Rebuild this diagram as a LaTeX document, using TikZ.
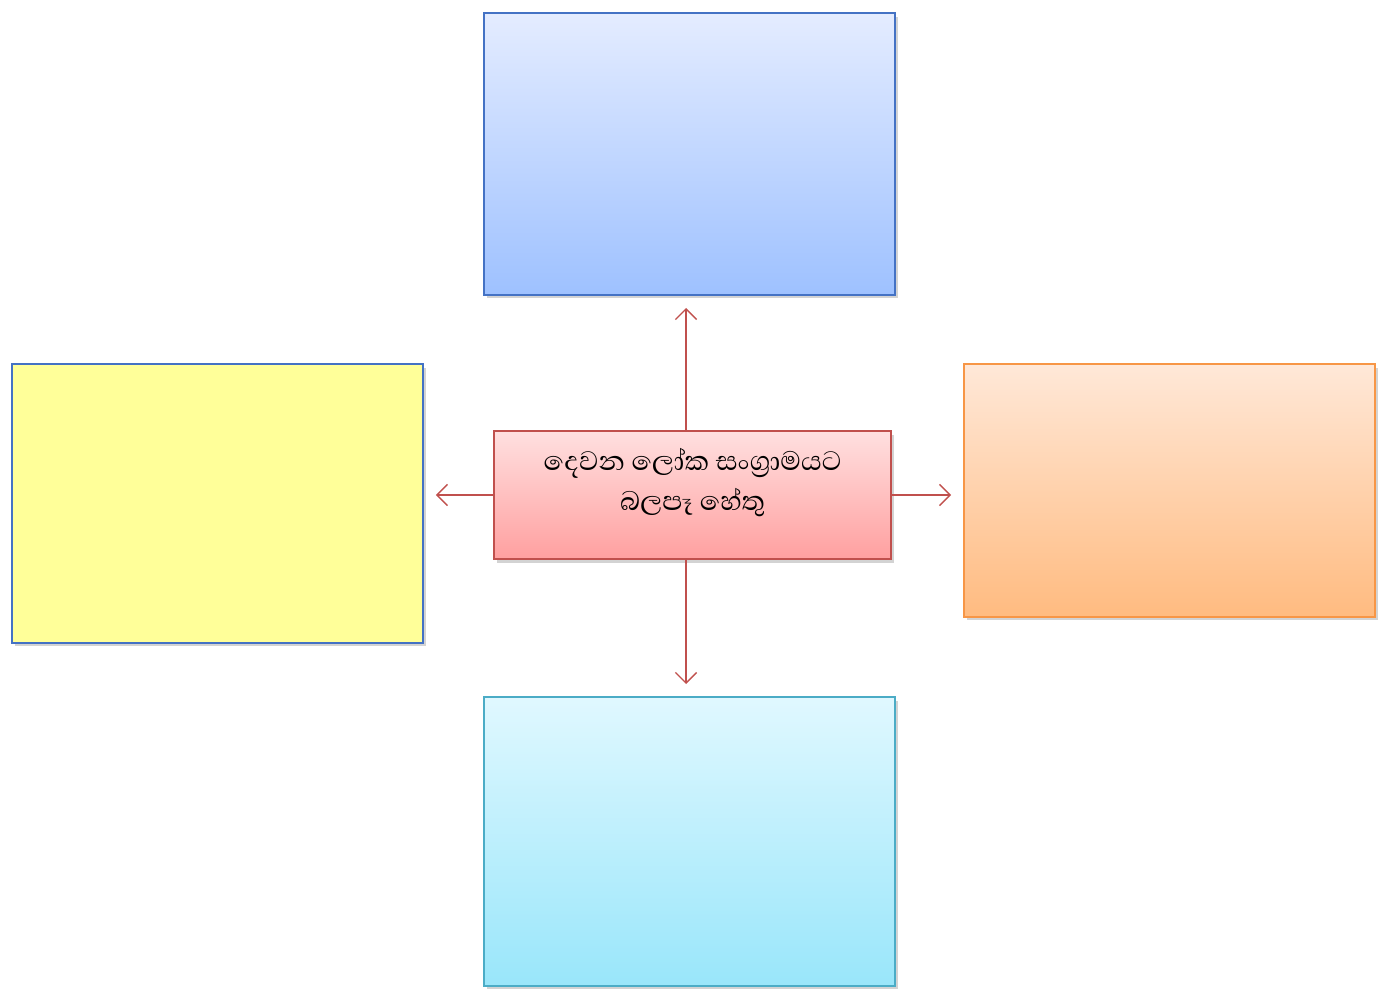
\documentclass[tikz,border=0pt]{standalone}
\usepackage{fontspec}
\newfontfamily\sinhalafont[Script=Sinhala]{Abhaya Libre}
\usetikzlibrary{shadows,arrows.meta}
\definecolor{arrowred}{HTML}{C0504D}
\definecolor{edgeblue}{HTML}{4472C4}
\tikzset{
  box/.style={draw, line width=.8pt, inner sep=0pt, outer sep=0pt,
    minimum width=8.22cm, drop shadow={shadow xshift=1.5pt, shadow yshift=-2pt, opacity=.35}},
  link/.style={->, draw=arrowred, line width=.8pt, shorten >=13*0.02cm}
}
\begin{document}
\begin{tikzpicture}[>={Straight Barb[length=6pt,width=12pt]}, x=0.02cm, y=-0.02cm]
\useasboundingbox (0,0) rectangle (1383,1000);
\node[box, draw=edgeblue, top color={rgb,255:red,228;green,236;blue,255}, bottom color={rgb,255:red,158;green,193;blue,255}, minimum height=5.64cm] (top) at (689.5,154) {};
\node[box, draw=edgeblue, fill={rgb,255:red,255;green,255;blue,153}, minimum height=5.58cm] (left) at (217.5,503.5) {};
\node[box, draw={rgb,255:red,247;green,150;blue,70}, top color={rgb,255:red,255;green,232;blue,216}, bottom color={rgb,255:red,255;green,187;blue,128}, minimum height=5.06cm] (right) at (1169.5,490.5) {};
\node[box, draw={rgb,255:red,75;green,172;blue,198}, top color={rgb,255:red,224;green,248;blue,255}, bottom color={rgb,255:red,153;green,230;blue,250}, minimum height=5.78cm] (bottom) at (689.5,841.5) {};
\node[box, draw=arrowred, top color={rgb,255:red,255;green,224;blue,224}, bottom color={rgb,255:red,255;green,160;blue,160}, minimum width=7.94cm, minimum height=2.56cm,
  label={[name=causetext, align=center, yshift=.25cm, font=\sinhalafont\fontsize{19.5}{22.7}\selectfont]center:දෙවන ලෝක සංග්‍රාමයට\\බලපෑ හේතු}] (cause) at (692.5,495) {};

\draw[link] (cause.north -| 686,0) -- (686,295);
\draw[link] (cause.south -| 686,0) -- (686,697);
\draw[link] (cause.west) -- (cause.west -| left.east);
\draw[link] (cause.east) -- (cause.east -| right.west);
\end{tikzpicture}
\end{document}
